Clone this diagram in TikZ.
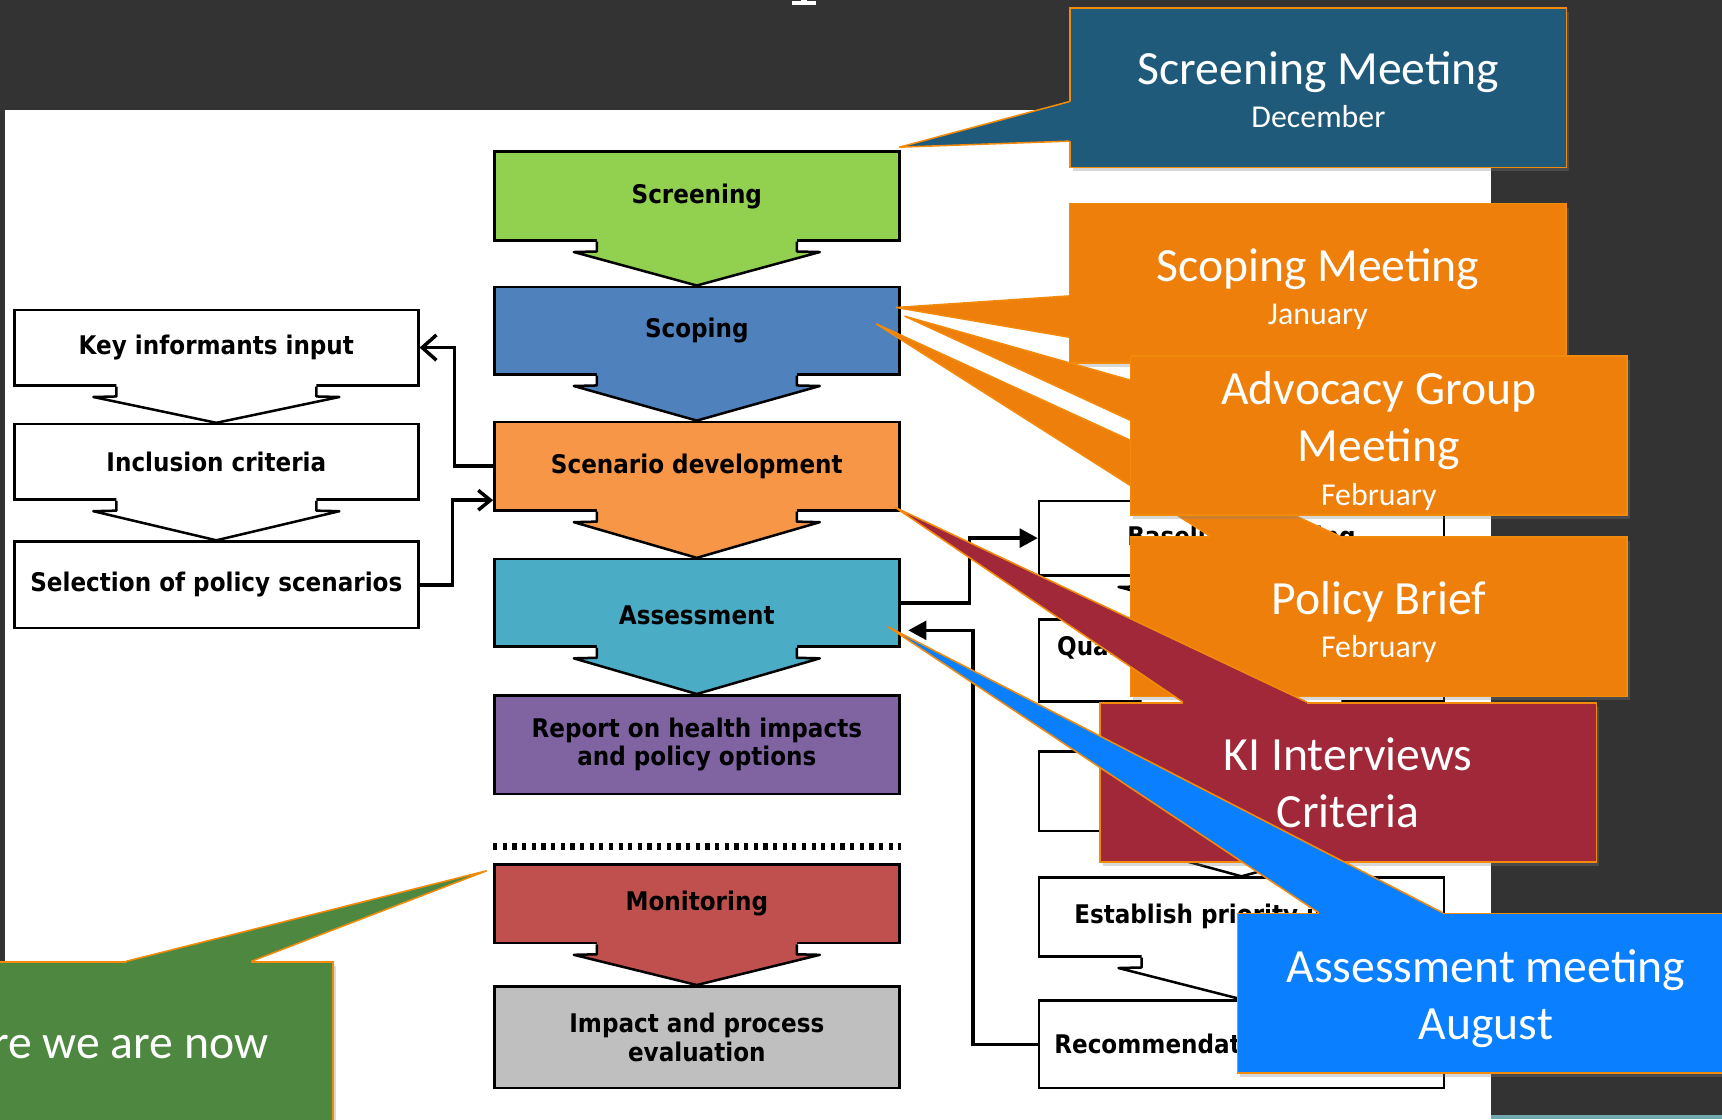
\documentclass[tikz,border=0pt]{standalone}
\usepackage{fontspec}
\usetikzlibrary{arrows.meta,calc,positioning,shadows}
\newfontfamily\flowfont{DejaVu Sans}[FakeStretch=0.9]
\newfontfamily\callfont{Carlito}
\newcommand{\flowtext}{\flowfont\bfseries\fontsize{13.3}{14.8}\selectfont}
\newcommand{\callbig}{\callfont\fontsize{24.7}{29.6}\selectfont}
\newcommand{\callsmall}{\fontsize{16.5}{19}\selectfont}

\definecolor{slidebg}{HTML}{333333}
\definecolor{screengreen}{HTML}{92D050}
\definecolor{scopeblue}{HTML}{4F81BD}
\definecolor{scenorange}{HTML}{F79646}
\definecolor{assessteal}{HTML}{4BACC6}
\definecolor{reportpurple}{HTML}{8064A2}
\definecolor{monitorred}{HTML}{C0504D}
\definecolor{impactgray}{HTML}{BFBFBF}
\definecolor{meetblue}{HTML}{1F5A7A}
\definecolor{meetorange}{HTML}{EF7F0B}
\definecolor{meetred}{HTML}{A12838}
\definecolor{meetazure}{HTML}{0A7FFF}
\definecolor{meetgreen}{HTML}{4E8840}
\definecolor{edgeorange}{HTML}{F28A0C}
\definecolor{stripteal}{HTML}{70A9AF}

\tikzstyle{stage}=[draw,line width=1.3pt,minimum width=73.75mm,align=center,font=\flowtext]
\tikzstyle{side}=[stage,fill=white,minimum width=73.55mm]
\tikzstyle{link}=[line width=1.8pt]
\tikzstyle{callbox}=[draw=edgeorange,line width=0.8pt,minimum width=90.4mm,minimum height=29mm,inner sep=0pt,drop shadow={shadow xshift=0.5mm,shadow yshift=-0.7mm,opacity=0.3}]
\tikzstyle{calltext}=[text=white,align=center,font=\callbig]
\tikzstyle{calledge}=[draw=edgeorange,line width=0.8pt,line join=round]

% arrow-shaped foot under a stage box: node, fill, depth
\newcommand{\chevron}[3]{%
  \fill[#2] ($(#1.south)+(-18.2mm,0.5mm)$) -- ++(0,-2.3mm) -- ++(-4.2mm,-0.1mm) -- ($(#1.south)+(0,-#3)$)
    -- ($(#1.south)+(22.4mm,-1.9mm)$) -- ++(-4.2mm,0.1mm) -- ++(0,2.3mm) -- cycle;
  \draw[line width=1.3pt,line join=round] ($(#1.south)+(-18.2mm,0)$) -- ++(0,-1.8mm) -- ++(-4.2mm,-0.1mm)
    -- ($(#1.south)+(0,-#3)$) -- ($(#1.south)+(22.4mm,-1.9mm)$) -- ++(-4.2mm,0.1mm) -- ++(0,1.8mm);}

% pointer of a callout: fill, tip, first end, second end, shift into the box
\newcommand{\calltail}[5]{%
  \fill[#1] (#2) -- (#3) -- ($(#3)+#5$) -- ($(#4)+#5$) -- (#4) -- cycle;
  \draw[calledge] (#3) -- (#2) -- (#4);}

\begin{document}
\begin{tikzpicture}[x=0.2mm,y=-0.2mm]
  \useasboundingbox (0,0) rectangle (1568,1019);
  \clip (0,0) rectangle (1568,1019);
  \fill[slidebg] (0,0) rectangle (1568,1019);
  \fill[white] (5,100) rectangle (1358,1019);
  \fill[stripteal] (1358,1015) rectangle (1568,1019);
  \fill[white] (721,1.2) rectangle (743,4.2);
  \fill[white] (729,0) rectangle (735,1.5);

  % main stages
  \node[stage,fill=screengreen,minimum height=16.14mm] (scr) at (634.5,178.5) {Screening};
  \node[stage,fill=scopeblue,minimum height=15.94mm,below=8mm of scr] (scp) {Scoping};
  \node[stage,fill=scenorange,minimum height=16.14mm,below=8.2mm of scp] (scen) {Scenario development};
  \node[stage,fill=assessteal,minimum height=15.94mm,below=8.4mm of scen,text height=23pt,text depth=0.2pt] (asm) {Assessment};
  \node[stage,fill=reportpurple,minimum height=17.94mm,below=8.4mm of asm] (rep) {Report on health impacts\\and policy options};
  \node[stage,fill=monitorred,minimum height=14.34mm,below=12.4mm of rep] (mon) {Monitoring};
  \node[stage,fill=impactgray,minimum height=18.54mm,below=7.4mm of mon] (imp) {Impact and process\\evaluation};
  \chevron{scr}{screengreen}{8mm}
  \chevron{scp}{scopeblue}{8.2mm}
  \chevron{scen}{scenorange}{8.4mm}
  \chevron{asm}{assessteal}{8.4mm}
  \chevron{mon}{monitorred}{7.4mm}
  \draw[line width=3.6pt,dash pattern=on 2.2pt off 2.8pt] ($(mon.north west)+(0,3mm)$) -- ($(mon.north east)+(0,3mm)$);

  % scenario inputs
  \node[side,minimum height=13.74mm] (key) at (197,316.5) {Key informants input};
  \node[side,minimum height=13.74mm,below=6.6mm of key] (incl) {Inclusion criteria};
  \node[side,minimum height=15.74mm,below=7.2mm of incl] (sel) {Selection of policy scenarios};
  \chevron{key}{white}{6.6mm}
  \chevron{incl}{white}{7.2mm}

  % assessment steps
  \node[side,minimum width=73.75mm,minimum height=13.54mm] (r1) at (1130.5,490) {Baseline profiling};
  \node[side,minimum width=73.75mm,minimum height=14.94mm,below=7.6mm of r1] (r2) {Qualitative and quantitative\\assessment};
  \node[side,minimum width=73.75mm,minimum height=14.54mm,below=8.6mm of r2] (r3) {};
  \node[side,minimum width=73.75mm,minimum height=14.34mm,below=8mm of r3] (r4) {Establish priority impacts};
  \node[side,minimum width=73.75mm,minimum height=15.94mm,below=7.6mm of r4] (r5) {Recommendations for action};
  \chevron{r1}{white}{7.6mm}
  \chevron{r2}{white}{8.6mm}
  \chevron{r3}{white}{8mm}
  \chevron{r4}{white}{7.6mm}

  \draw[link,-{Straight Barb[length=2.6mm,width=4.6mm]}] (scen.west) -- ++(-7mm,0) |- (key.east);
  \draw[link,-{Straight Barb[length=2.2mm,width=3.6mm]}] (sel.east) -- ++(6mm,0) |- ($(scen.west)+(0,-6.2mm)$);
  \draw[link,-{Triangle[length=3.3mm,width=3.4mm]}] (asm.east) -- ++(12.6mm,0) |- (r1.west);
  \draw[link,-{Triangle[length=3.3mm,width=3.4mm]},shorten >=1.4mm] (r5.west) -- ++(-11.8mm,0) |- ($(asm.east)+(0,-5mm)$);

  % callouts
  \node[callbox,fill=meetblue] (scrmeet) at (1200.5,80) {};
  \coordinate (scrtip) at ($(scr.north east)+(-1,-3)$);
  \coordinate (scrA) at ($(scrmeet.west)+(0,12.5)$);
  \coordinate (scrB) at ($(scrmeet.west)+(0,48.5)$);
  \calltail{meetblue}{scrtip}{scrA}{scrB}{(3,0)}
  \node[calltext] (scrmeettxt) at ($(scrmeet)+(0,1.5)$) {Screening Meeting\\[-7.3pt]{\callsmall December}};

  \node[callbox,fill=meetorange] (scpmeet) at (1200,258) {};
  \coordinate (scptip) at ($(scp.east)+(-4,-21)$);
  \coordinate (scpA) at ($(scpmeet.west)+(0,11.5)$);
  \coordinate (scpB) at ($(scpmeet.west)+(0,49)$);
  \calltail{meetorange}{scptip}{scpA}{scpB}{(3,0)}
  \node[calltext] (scpmeettxt) at ($(scpmeet)+(0,5.5)$) {Scoping Meeting\\[-7.3pt]{\callsmall January}};

  \node[callbox,fill=meetorange] (polbrief) at (1255.5,561.5) {};
  \coordinate (poltip) at ($(scp.east)+(-22,-6)$);
  \coordinate (polA) at ($(polbrief.north)+(-153.5,0)$);
  \coordinate (polB) at ($(polbrief.north)+(-35.5,0)$);
  \calltail{meetorange}{poltip}{polA}{polB}{(0,3)}
  \node[calltext] (polbrieftxt) at ($(polbrief)+(0,5)$) {Policy Brief\\[-7.3pt]{\callsmall February}};

  \node[callbox,fill=meetorange] (advmeet) at (1255.5,396.5) {};
  \coordinate (advtip) at ($(scp.east)+(4,-13)$);
  \coordinate (advA) at ($(advmeet.west)+(0,-50.5)$);
  \coordinate (advB) at ($(advmeet.west)+(0,-14)$);
  \calltail{meetorange}{advtip}{advA}{advB}{(3,0)}
  \node[calltext] (advmeettxt) at ($(advmeet)+(0,5)$) {Advocacy Group\\Meeting\\[-7.3pt]{\callsmall February}};

  \node[callbox,fill=meetred] (kiint) at (1227.5,712.5) {};
  \coordinate (kitip) at ($(scen.south east)+(-5,-4)$);
  \coordinate (kiA) at ($(kiint.north)+(-150.5,0)$);
  \coordinate (kiB) at ($(kiint.north)+(-37.5,0)$);
  \calltail{meetred}{kitip}{kiA}{kiB}{(0,3)}
  \node[calltext] (kiinttxt) at ($(kiint)+(0,0.5)$) {KI Interviews\\Criteria};

  \node[callbox,fill=meetazure] (asmmeet) at (1353,904.5) {};
  \coordinate (asmtip) at ($(asm.east)+(-11,22)$);
  \coordinate (asmA) at ($(asmmeet.north)+(-152,0)$);
  \coordinate (asmB) at ($(asmmeet.north)+(-39,0)$);
  \calltail{meetazure}{asmtip}{asmA}{asmB}{(0,3)}
  \node[calltext] (asmmeettxt) at ($(asmmeet)+(0,5)$) {Assessment meeting\\August};

  \node[callbox,fill=meetgreen] (nowbox) at (77,948.5) {};
  \coordinate (nowtip) at ($(mon.north west)+(-6,7)$);
  \coordinate (nowA) at ($(nowbox.north)+(38,0)$);
  \coordinate (nowB) at ($(nowbox.north)+(152,0)$);
  \calltail{meetgreen}{nowtip}{nowA}{nowB}{(0,3)}
  \node[calltext] (nowtxt) at (nowbox) {Where we are now};
\end{tikzpicture}
\end{document}
